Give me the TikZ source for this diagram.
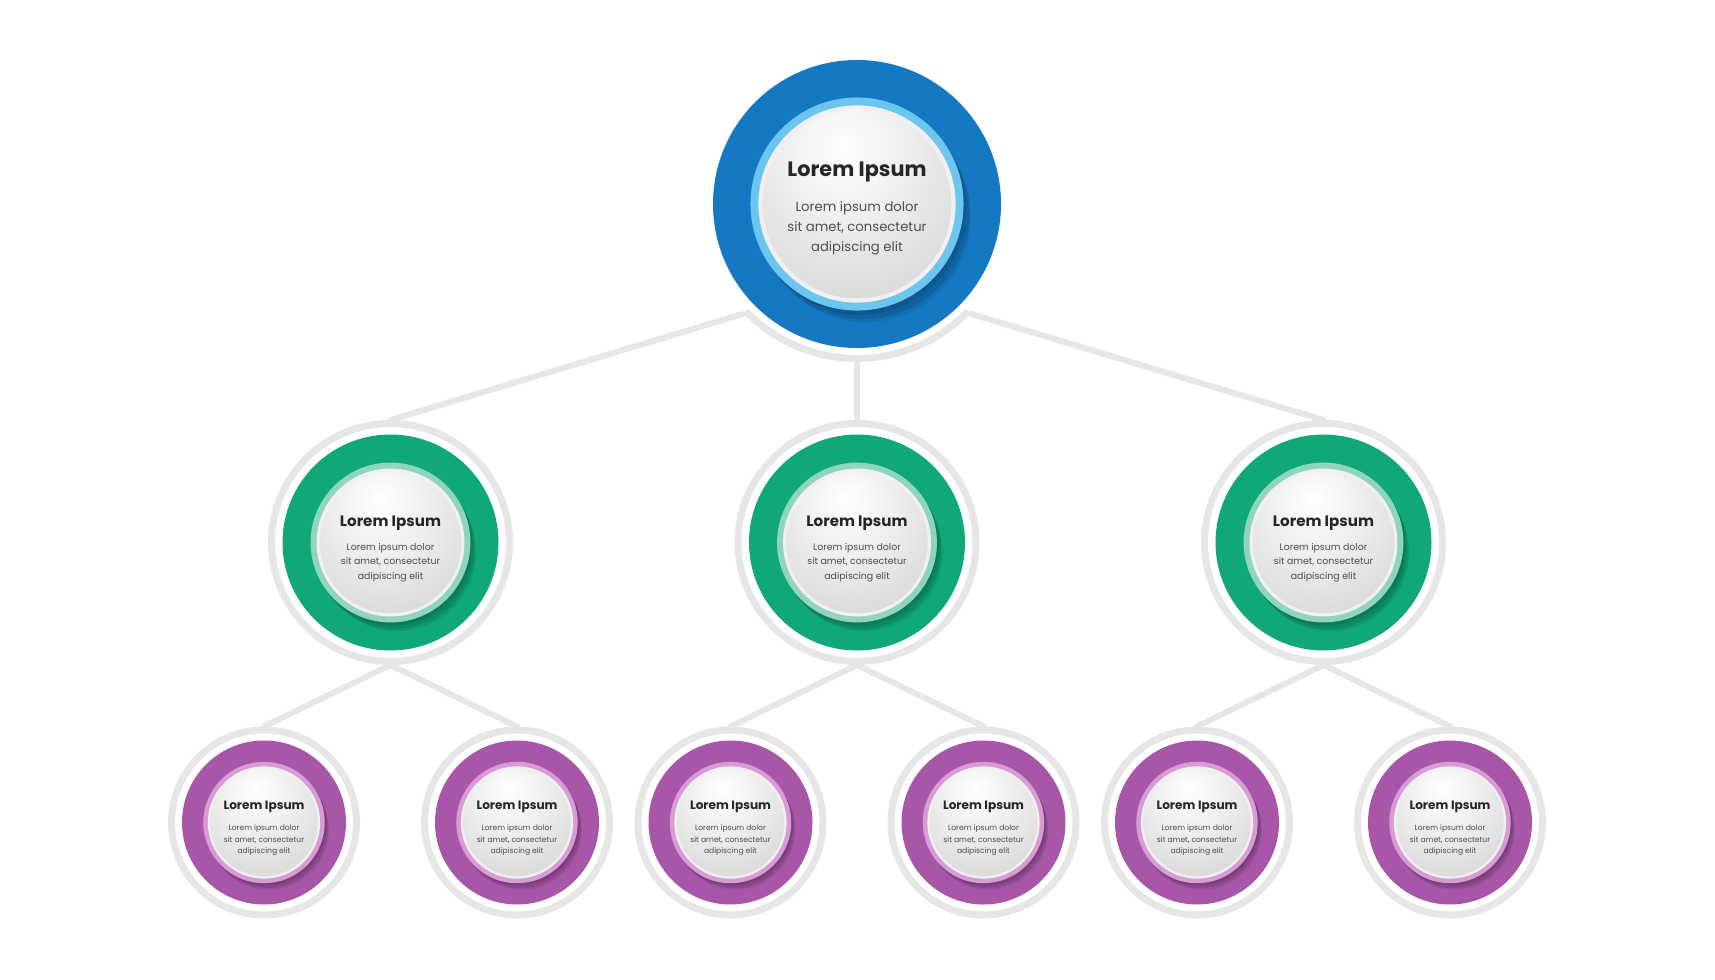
\documentclass[tikz,border=0pt]{standalone}
\usepackage{fontspec}
\setmainfont{Poppins}
\usepackage{xcolor}
\usepackage{tikz}
\usetikzlibrary{positioning}

\definecolor{ringgray}{HTML}{E6E6E6}
\definecolor{topblue}{HTML}{1479C2}
\definecolor{topsky}{HTML}{6CC5EE}
\definecolor{midgreen}{HTML}{10A878}
\definecolor{midmint}{HTML}{8FD4BC}
\definecolor{lowpurple}{HTML}{A857A8}
\definecolor{lowpink}{HTML}{D89BD6}
\definecolor{titlegray}{HTML}{262626}
\definecolor{bodygray}{HTML}{4D4D4D}

\pgfdeclareradialshading{diskshade}{\pgfpoint{-4bp}{16bp}}{color(0bp)=(white); color(18bp)=(black!7); color(45bp)=(black!19); color(62bp)=(black!25); color(80bp)=(black!25)}

\newcommand{\toptitle}[1]{{\fontsize{10.4pt}{12.5pt}\selectfont\bfseries\color{titlegray}\rule{0pt}{11.7pt}#1}}
\newcommand{\midtitle}[1]{{\fontsize{7.55pt}{9pt}\selectfont\bfseries\color{titlegray}\rule{0pt}{11.7pt}#1}}
\newcommand{\lowtitle}[1]{{\fontsize{6.05pt}{7.3pt}\selectfont\bfseries\color{titlegray}\rule{0pt}{10.2pt}#1}}

\begin{document}
\begin{tikzpicture}[
        x=0.5pt, y=-0.5pt,
        bubble/.style n args={4}{circle, draw=ringgray, line width=3.5pt, minimum size=#1,
            inner sep=0pt, align=center, text=bodygray,
            path picture={
                \fill[#3] (path picture bounding box.center) circle (#2);
                \fill[black, opacity=.10] ([shift={(.02*#2,-.03*#2)}]path picture bounding box.center) circle (.74*#2);
                \fill[black, opacity=.10] ([shift={(.04*#2,-.06*#2)}]path picture bounding box.center) circle (.74*#2);
                \fill[black, opacity=.08] ([shift={(.06*#2,-.09*#2)}]path picture bounding box.center) circle (.73*#2);
                \fill[#4] (path picture bounding box.center) circle (.74*#2);
                \fill[white!94!black] (path picture bounding box.center) circle (.685*#2);
                \shade[shading=diskshade] (path picture bounding box.center) circle (.655*#2);
            }},
        topbub/.style={bubble={154.5pt}{72pt}{topblue}{topsky}, draw=none, font=\fontsize{6.6pt}{10.1pt}\selectfont},
        midbub/.style={bubble={119pt}{54pt}{midgreen}{midmint}, font=\fontsize{4.7pt}{7.4pt}\selectfont},
        lowbub/.style={bubble={92.5pt}{41pt}{lowpurple}{lowpink}, font=\fontsize{3.8pt}{5.75pt}\selectfont},
        link/.style={draw=ringgray, line width=3pt, line cap=round},
        topring/.style={draw=ringgray, line width=3.5pt}
    ]
        \useasboundingbox (0,0) rectangle (1715,980);

        \node[topbub] (top) at (857,204) {\toptitle{Lorem Ipsum}\\[7.4pt]Lorem ipsum dolor\\sit amet, consectetur\\adipiscing elit};

        \node[midbub, below=29pt of top]       (mid2) {\midtitle{Lorem Ipsum}\\[4.6pt]Lorem ipsum dolor\\sit amet, consectetur\\adipiscing elit};
        \node[midbub, left=110.75pt of mid2]   (mid1) {\midtitle{Lorem Ipsum}\\[4.6pt]Lorem ipsum dolor\\sit amet, consectetur\\adipiscing elit};
        \node[midbub, right=110.75pt of mid2]  (mid3) {\midtitle{Lorem Ipsum}\\[4.6pt]Lorem ipsum dolor\\sit amet, consectetur\\adipiscing elit};

        \node[lowbub, below=30.75pt of mid1, xshift=-63.25pt] (low1) {\lowtitle{Lorem Ipsum}\\[4.65pt]Lorem ipsum dolor\\sit amet, consectetur\\adipiscing elit};
        \node[lowbub, below=30.75pt of mid1, xshift=63.25pt]  (low2) {\lowtitle{Lorem Ipsum}\\[4.65pt]Lorem ipsum dolor\\sit amet, consectetur\\adipiscing elit};
        \node[lowbub, below=30.75pt of mid2, xshift=-63.25pt] (low3) {\lowtitle{Lorem Ipsum}\\[4.65pt]Lorem ipsum dolor\\sit amet, consectetur\\adipiscing elit};
        \node[lowbub, below=30.75pt of mid2, xshift=63.25pt]  (low4) {\lowtitle{Lorem Ipsum}\\[4.65pt]Lorem ipsum dolor\\sit amet, consectetur\\adipiscing elit};
        \node[lowbub, below=30.75pt of mid3, xshift=-63.25pt] (low5) {\lowtitle{Lorem Ipsum}\\[4.65pt]Lorem ipsum dolor\\sit amet, consectetur\\adipiscing elit};
        \node[lowbub, below=30.75pt of mid3, xshift=63.25pt]  (low6) {\lowtitle{Lorem Ipsum}\\[4.65pt]Lorem ipsum dolor\\sit amet, consectetur\\adipiscing elit};

        % connectors, the top one runs round the lower half of the blue disc
        \draw[topring] ([shift={(-136:77.25pt)}]top.center) arc[start angle=-136, end angle=-44, radius=77.25pt];
        \draw[link] (top.-136) -- (mid1.north);
        \draw[link] (top.south) -- (mid2.north);
        \draw[link] (top.-44)  -- (mid3.north);
        \draw[link] (mid1.south) -- (low1.north);
        \draw[link] (mid1.south) -- (low2.north);
        \draw[link] (mid2.south) -- (low3.north);
        \draw[link] (mid2.south) -- (low4.north);
        \draw[link] (mid3.south) -- (low5.north);
        \draw[link] (mid3.south) -- (low6.north);
    \end{tikzpicture}
\end{document}
